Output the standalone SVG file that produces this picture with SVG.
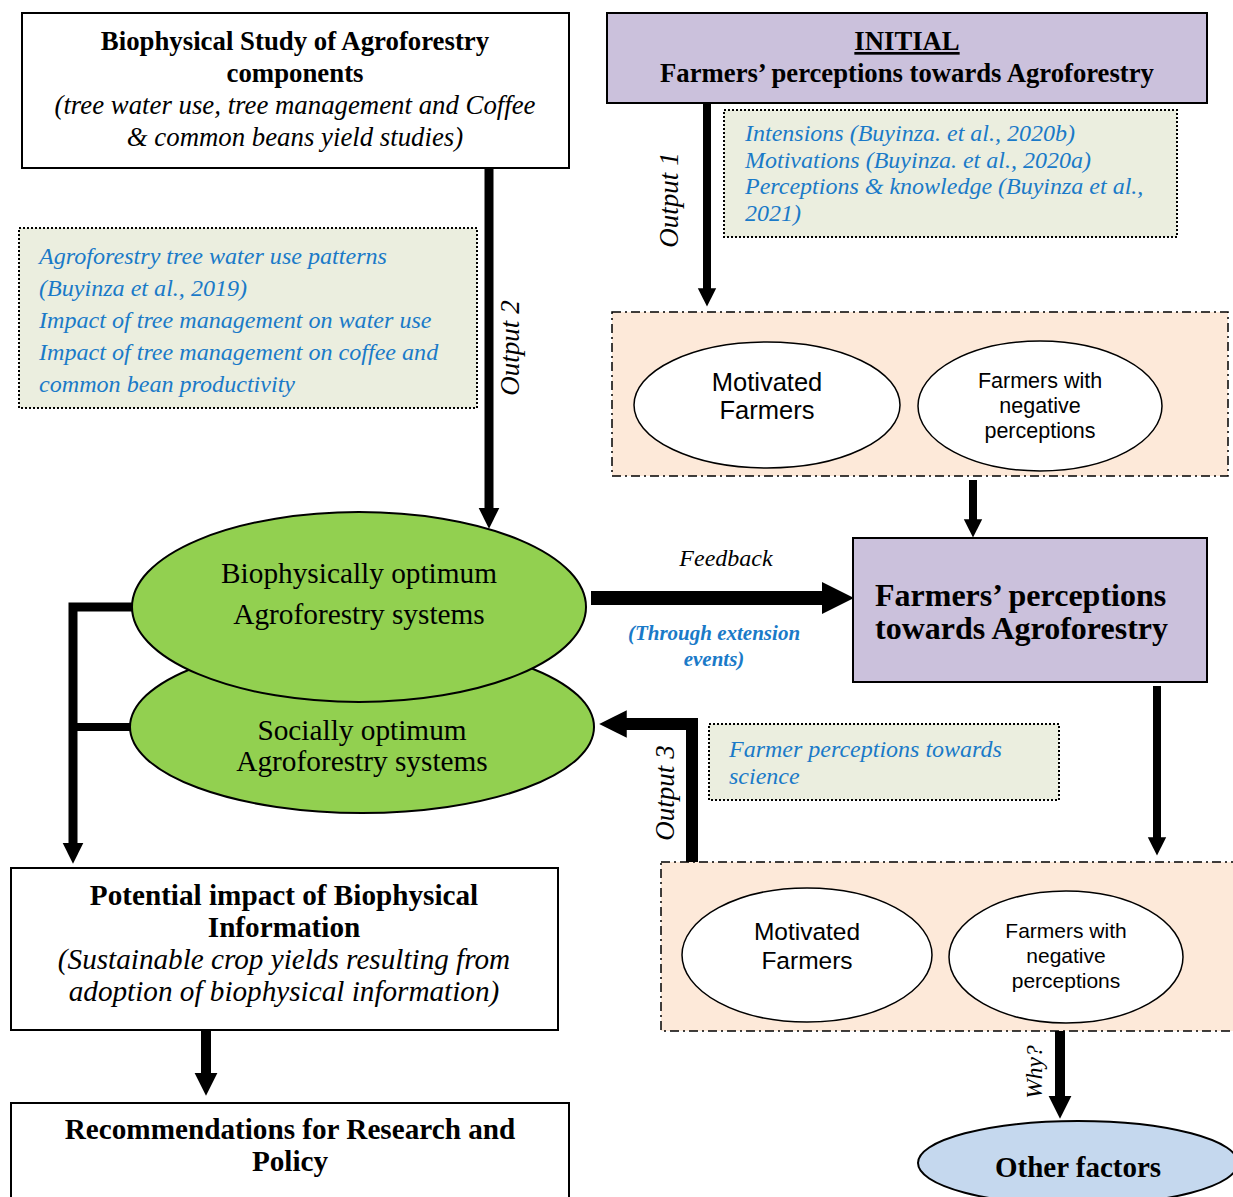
<svg xmlns="http://www.w3.org/2000/svg" width="1233" height="1197" viewBox="0 0 1233 1197">
<defs>
<style>
.box{fill:#fff;stroke:#000;stroke-width:2}
.purple{fill:#cbc1dc;stroke:#000;stroke-width:2}
.note{fill:#ebeedf;stroke:#000;stroke-width:2;stroke-dasharray:2 2}
.peach{fill:#fde9d9;stroke:#000;stroke-width:1.5;stroke-dasharray:9 4 2 4}
.ell{fill:#fff;stroke:#000;stroke-width:1.5}
.green{fill:#92d050;stroke:#000;stroke-width:2}
.blueell{fill:#c5d8ee;stroke:#000;stroke-width:2}
.serif{font-family:"Liberation Serif","Times New Roman",serif;fill:#000}
.b{font-weight:bold}
.i{font-style:italic}
.blue{font-family:"Liberation Serif","Times New Roman",serif;font-style:italic;fill:#1a7ac8;font-size:24px}
.blue2{font-size:24.1px}
.sans{font-family:"Liberation Sans",Arial,sans-serif;fill:#000}
.conn{fill:none;stroke:#000;stroke-linejoin:miter}
</style>
<marker id="ah" viewBox="0 0 10 10" refX="1" refY="5" markerWidth="2.3" markerHeight="2.5" orient="auto">
<path d="M0,0 L10,5 L0,10 z" fill="#000"/>
</marker>
</defs>

<g id="n-biostudy">
<rect class="box" x="22" y="13" width="547" height="155"/>
<text class="serif b" font-size="26.8" text-anchor="middle" x="295" y="50">Biophysical Study of Agroforestry</text>
<text class="serif b" font-size="26.8" text-anchor="middle" x="295" y="82">components</text>
<text class="serif i" font-size="26.8" text-anchor="middle" x="295" y="114">(tree water use, tree management and Coffee</text>
<text class="serif i" font-size="26.8" text-anchor="middle" x="295" y="146">&amp; common beans yield studies)</text>
</g>

<g id="n-initial">
<rect class="purple" x="607" y="13" width="600" height="90"/>
<text class="serif b" font-size="26.7" text-anchor="middle" x="907" y="50" text-decoration="underline">INITIAL</text>
<text class="serif b" font-size="26.7" text-anchor="middle" x="907" y="82">Farmers’ perceptions towards Agroforestry</text>
</g>

<g id="n-note1">
<rect class="note" x="724" y="110" width="453" height="127"/>
<text class="blue" x="745" y="141">Intensions (Buyinza. et al., 2020b)</text>
<text class="blue" x="745" y="168">Motivations (Buyinza. et al., 2020a)</text>
<text class="blue" x="745" y="194">Perceptions &amp; knowledge (Buyinza et al.,</text>
<text class="blue" x="745" y="221">2021)</text>
</g>

<g id="n-note2">
<rect class="note" x="19" y="228" width="458" height="180"/>
<text class="blue blue2" x="39" y="264">Agroforestry tree water use patterns</text>
<text class="blue blue2" x="39" y="296">(Buyinza et al., 2019)</text>
<text class="blue blue2" x="39" y="328">Impact of tree management on water use</text>
<text class="blue blue2" x="39" y="360">Impact of tree management on coffee and</text>
<text class="blue blue2" x="39" y="392">common bean productivity</text>
</g>

<g id="n-group1">
<rect class="peach" x="612" y="312" width="616" height="164"/>
<ellipse class="ell" cx="767" cy="405" rx="133" ry="63"/>
<text class="sans" font-size="25.5" text-anchor="middle" x="767" y="391">Motivated</text>
<text class="sans" font-size="25.5" text-anchor="middle" x="767" y="419">Farmers</text>
<ellipse class="ell" cx="1040" cy="406" rx="122" ry="65"/>
<text class="sans" font-size="21.5" text-anchor="middle" x="1040" y="388">Farmers with</text>
<text class="sans" font-size="21.5" text-anchor="middle" x="1040" y="413">negative</text>
<text class="sans" font-size="21.5" text-anchor="middle" x="1040" y="438">perceptions</text>
</g>

<g id="n-perceptions">
<rect class="purple" x="853" y="538" width="354" height="144"/>
<text class="serif b" font-size="32" x="875" y="606">Farmers’ perceptions</text>
<text class="serif b" font-size="32" x="875" y="639">towards Agroforestry</text>
</g>

<g id="n-social">
<ellipse class="green" cx="362" cy="727" rx="232" ry="86"/>
<text class="serif" font-size="29.3" text-anchor="middle" x="362" y="740">Socially optimum</text>
<text class="serif" font-size="29.3" text-anchor="middle" x="362" y="771">Agroforestry systems</text>
</g>

<g id="n-bio">
<ellipse class="green" cx="359" cy="607" rx="227" ry="95"/>
<text class="serif" font-size="29.3" text-anchor="middle" x="359" y="583">Biophysically optimum</text>
<text class="serif" font-size="29.3" text-anchor="middle" x="359" y="624">Agroforestry systems</text>
</g>

<g id="n-note3">
<rect class="note" x="709" y="724" width="350" height="76"/>
<text class="blue" x="729" y="757">Farmer perceptions towards</text>
<text class="blue" x="729" y="784">science</text>
</g>

<g id="n-group2">
<rect class="peach" x="661" y="862" width="580" height="169"/>
<ellipse class="ell" cx="807" cy="955" rx="125" ry="67"/>
<text class="sans" font-size="24.5" text-anchor="middle" x="807" y="940">Motivated</text>
<text class="sans" font-size="24.5" text-anchor="middle" x="807" y="969">Farmers</text>
<ellipse class="ell" cx="1066" cy="957" rx="117" ry="66"/>
<text class="sans" font-size="21" text-anchor="middle" x="1066" y="938">Farmers with</text>
<text class="sans" font-size="21" text-anchor="middle" x="1066" y="963">negative</text>
<text class="sans" font-size="21" text-anchor="middle" x="1066" y="988">perceptions</text>
</g>

<g id="n-other">
<ellipse class="blueell" cx="1078" cy="1163" rx="160" ry="42"/>
<text class="serif b" font-size="29" text-anchor="middle" x="1078" y="1177">Other factors</text>
</g>

<g id="n-potential">
<rect class="box" x="11" y="868" width="547" height="162"/>
<text class="serif b" font-size="29.2" text-anchor="middle" x="284" y="905">Potential impact of Biophysical</text>
<text class="serif b" font-size="29.2" text-anchor="middle" x="284" y="937">Information</text>
<text class="serif i" font-size="29.2" text-anchor="middle" x="284" y="969">(Sustainable crop yields resulting from</text>
<text class="serif i" font-size="29.2" text-anchor="middle" x="284" y="1001">adoption of biophysical information)</text>
</g>

<g id="n-recommend">
<rect class="box" x="11" y="1103" width="558" height="110"/>
<text class="serif b" font-size="29.2" text-anchor="middle" x="290" y="1139">Recommendations for Research and</text>
<text class="serif b" font-size="29.2" text-anchor="middle" x="290" y="1171">Policy</text>
</g>

<g id="connectors">
<path class="conn" stroke-width="8" d="M707,103 V290" marker-end="url(#ah)"/>
<path class="conn" stroke-width="9" d="M489,168 V510" marker-end="url(#ah)"/>
<path class="conn" stroke-width="8" d="M973,480 V521" marker-end="url(#ah)"/>
<path class="conn" stroke-width="14" d="M591,598 H825" marker-end="url(#ah)"/>
<path class="conn" stroke-width="8" d="M1157,686 V839" marker-end="url(#ah)"/>
<path class="conn" stroke-width="12" d="M692,862 V724 H624" marker-end="url(#ah)"/>
<path class="conn" stroke-width="9" d="M133,607 H73 V845" marker-end="url(#ah)"/>
<path class="conn" stroke-width="8" d="M130,727 H73"/>
<path class="conn" stroke-width="10" d="M206,1030 V1075" marker-end="url(#ah)"/>
<path class="conn" stroke-width="10" d="M1060,1031 V1098" marker-end="url(#ah)"/>
<text class="serif i" font-size="27" text-anchor="middle" transform="translate(678,200) rotate(-90)">Output 1</text>
<text class="serif i" font-size="27" text-anchor="middle" transform="translate(519,348) rotate(-90)">Output 2</text>
<text class="serif i" font-size="27" text-anchor="middle" transform="translate(674,793) rotate(-90)">Output 3</text>
<text class="serif i" font-size="23.4" text-anchor="middle" transform="translate(1042,1072) rotate(-90)">Why?</text>
<text class="serif i" font-size="24" text-anchor="middle" x="726" y="566">Feedback</text>
<text class="serif b i" font-size="21" text-anchor="middle" style="fill:#1a7ac8" x="714" y="640">(Through extension</text>
<text class="serif b i" font-size="21" text-anchor="middle" style="fill:#1a7ac8" x="714" y="666">events)</text>
</g>
</svg>
